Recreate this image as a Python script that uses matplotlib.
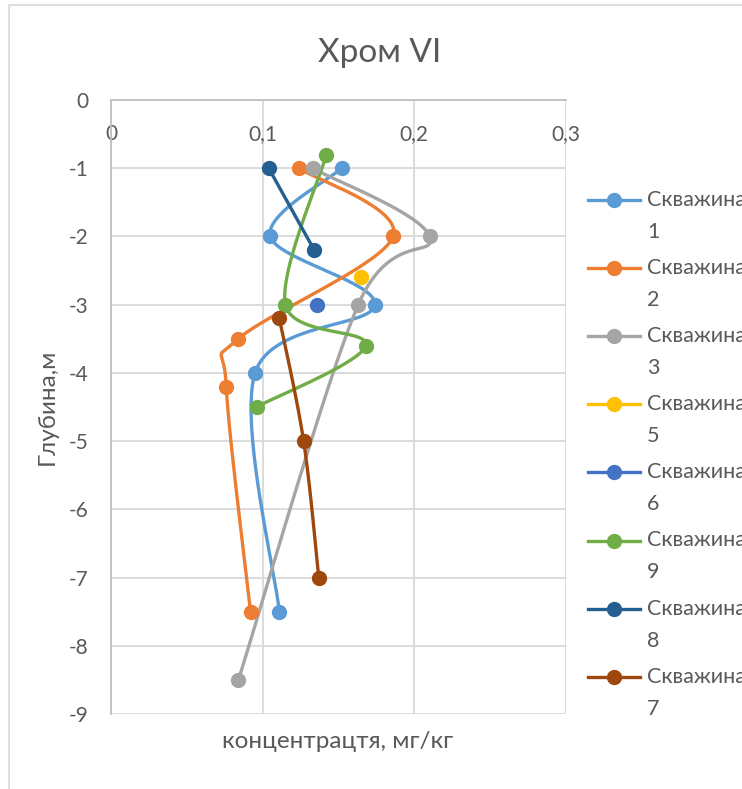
import numpy as np
import matplotlib
matplotlib.use("Agg")
import matplotlib.pyplot as plt
from matplotlib.lines import Line2D
from matplotlib.patches import Rectangle

plt.rcParams['font.family'] = ['Lato', 'Open Sans', 'DejaVu Sans']
plt.rcParams['axes.unicode_minus'] = False

# ---- data ----
labels = ["Скважина\n1", "Скважина\n2", "Скважина\n3", "Скважина\n5",
          "Скважина\n6", "Скважина\n9", "Скважина\n8", "Скважина\n7"]
colors = ["#5b9bd5", "#ed7d31", "#a5a5a5", "#ffc000",
          "#4472c4", "#70ad47", "#255e91", "#9e480e"]

well1_x = [0.152, 0.105, 0.174, 0.095, 0.111]
well1_y = [-1, -2, -3, -4, -7.5]
well2_x = [0.124, 0.186, 0.084, 0.076, 0.092]
well2_y = [-1, -2, -3.5, -4.2, -7.5]
well3_x = [0.133, 0.210, 0.163, 0.084]
well3_y = [-1, -2, -3, -8.5]
well5_x = [0.165]
well5_y = [-2.6]
well6_x = [0.136]
well6_y = [-3]
well9_x = [0.142, 0.115, 0.168, 0.096]
well9_y = [-0.8, -3, -3.6, -4.5]
well8_x = [0.104, 0.134]
well8_y = [-1, -2.2]
well7_x = [0.111, 0.127, 0.137]
well7_y = [-3.2, -5, -7]

series = [(well1_x, well1_y), (well2_x, well2_y), (well3_x, well3_y),
          (well5_x, well5_y), (well6_x, well6_y), (well9_x, well9_y),
          (well8_x, well8_y), (well7_x, well7_y)]

x_ticks = [0, 0.1, 0.2, 0.3]
x_tick_labels = ["0", "0,1", "0,2", "0,3"]
y_ticks = list(range(0, -10, -1))

W, H = 742, 789
fig = plt.figure(figsize=(W / 100, H / 100), dpi=100)
ax = fig.add_axes([111 / W, 1 - 714 / H, 455 / W, 614 / H])

ax.set_xlim(0, 0.3)
ax.set_ylim(-9, 0)

txt = "#595959"
grid = "#d9d9d9"


def smooth_path(xs, ys, n=40):
    # Excel-like smoothing: cubic Bezier with Catmull-Rom control points,
    # computed in display-proportional coordinates
    sx, sy = 455 / 0.3, 614 / 9.0
    P = np.column_stack([np.asarray(xs) * sx, np.asarray(ys) * sy])
    m = len(P)
    out = [P[0]]
    for i in range(m - 1):
        p0 = P[i - 1] if i > 0 else P[i]
        p1 = P[i]
        p2 = P[i + 1]
        p3 = P[i + 2] if i + 2 < m else P[i + 1]
        c1 = p1 + (p2 - p0) / 6.0
        c2 = p2 - (p3 - p1) / 6.0
        t = np.linspace(0, 1, n)[1:, None]
        seg = ((1 - t) ** 3) * p1 + 3 * ((1 - t) ** 2) * t * c1 + 3 * (1 - t) * t ** 2 * c2 + t ** 3 * p2
        out.extend(seg)
    out = np.array(out)
    return out[:, 0] / sx, out[:, 1] / sy


for (xs, ys), c in zip(series, colors):
    if len(xs) > 1:
        cx, cy = smooth_path(xs, ys)
        ax.plot(cx, cy, color=c, lw=2.4, solid_capstyle='round', zorder=3, clip_on=False)
    ax.plot(xs, ys, linestyle='none', marker='o', ms=10, color=c, zorder=4, clip_on=False)

ax.set_xticks(x_ticks)
ax.set_xticklabels(x_tick_labels)
ax.set_yticks(y_ticks)
ax.grid(True, color=grid, lw=1.3)
ax.set_axisbelow(True)
for s in ax.spines.values():
    s.set_visible(False)
for side in ('left', 'top'):
    ax.spines[side].set_visible(True)
    ax.spines[side].set_color("#bfbfbf")
    ax.spines[side].set_linewidth(1.3)

ax.tick_params(axis='x', top=False, bottom=False, labeltop=True, labelbottom=False,
               length=0, pad=-32, labelsize=15, labelcolor=txt)
ax.tick_params(axis='y', length=0, pad=16.5, labelsize=15, labelcolor=txt)

ax.set_xlabel("концентрацтя, мг/кг", fontsize=17.5, color=txt, va='center')
ax.xaxis.set_label_coords(0.499, (714 - 741) / 614)
ax.set_ylabel("Глубина,м", fontsize=17.5, color=txt, va='center')
ax.yaxis.set_label_coords((47 - 111) / 455, 0.5)

fig.text(380 / W, 1 - 53 / H, "Хром VI", fontsize=24, color=txt, ha='center', va='center')

# chart-area border
fig.add_artist(Rectangle((8.5 / W, -0.1), 1.0, 1 - 5.5 / H + 0.1, transform=fig.transFigure,
                         fill=False, edgecolor=grid, lw=1.2))

# legend (manual, clipped by figure edge like the original)
leg_y0 = 200
leg_dy = 68.1
for i, (lab, c) in enumerate(zip(labels, colors)):
    yy = 1 - (leg_y0 + i * leg_dy) / H
    fig.add_artist(Line2D([588 / W, 640 / W], [yy, yy], color=c, lw=2.4,
                          transform=fig.transFigure))
    fig.add_artist(Line2D([614 / W], [yy], marker='o', ms=10, color=c,
                          transform=fig.transFigure))
    first, second = lab.split("\n")
    fig.text(647 / W, yy, first, fontsize=15.5, color=txt, ha='left', va='center')
    fig.text(647 / W, yy - 32 / H, second, fontsize=15.5, color=txt, ha='left', va='center')

fig.savefig("out.png", dpi=100)
